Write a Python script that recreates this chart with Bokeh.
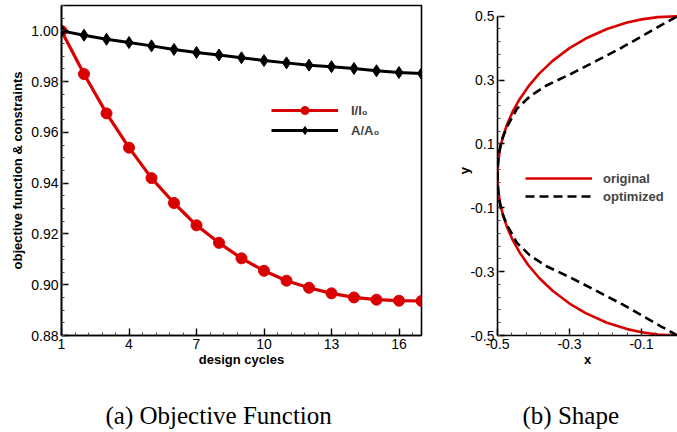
from bokeh.plotting import figure
from bokeh.layouts import row, column
from bokeh.models import (FixedTicker, NumeralTickFormatter, Legend, LegendItem,
                          Label, Range1d)
from bokeh.embed import file_html
from bokeh.resources import INLINE

# ---- data: optimisation history ----
cycles = list(range(1, 18))
obj_ratio = [1.000, 0.983, 0.9675, 0.954, 0.942, 0.9322, 0.9234, 0.9165, 0.9104,
             0.9055, 0.9016, 0.8988, 0.8966, 0.8950, 0.8941, 0.8937, 0.8936]
area_ratio = [1.000, 0.9983, 0.9967, 0.9954, 0.9941, 0.9927, 0.9915, 0.9905, 0.9894,
              0.9883, 0.9874, 0.9865, 0.9859, 0.9852, 0.9843, 0.9836, 0.9832]

# ---- data: nose shapes ----
orig_y = [-0.5, -0.497, -0.49, -0.48, -0.46, -0.43, -0.4, -0.36, -0.32, -0.28, -0.24,
          -0.2, -0.16, -0.13, -0.1, -0.08, -0.05, -0.02, 0.0, 0.02, 0.05, 0.08, 0.1,
          0.13, 0.16, 0.2, 0.24, 0.28, 0.32, 0.36, 0.4, 0.43, 0.46, 0.48, 0.49, 0.497, 0.5]
orig_x = [0.0, -0.0547, -0.0995, -0.14, -0.196, -0.2551, -0.3, -0.347, -0.3842, -0.4142,
          -0.4386, -0.4583, -0.4737, -0.4828, -0.4899, -0.4936, -0.4975, -0.4996, -0.5,
          -0.4996, -0.4975, -0.4936, -0.4899, -0.4828, -0.4737, -0.4583, -0.4386, -0.4142,
          -0.3842, -0.347, -0.3, -0.2551, -0.196, -0.14, -0.0995, -0.0547, 0.0]

opt_x = [0.0, -0.045, -0.09, -0.154, -0.227, -0.3, -0.364, -0.41, -0.446, -0.473, -0.489,
         -0.496, -0.499, -0.5, -0.499, -0.496, -0.489, -0.473, -0.446, -0.41, -0.364,
         -0.3, -0.227, -0.154, -0.09, -0.045, 0.0]
opt_y = [-0.5, -0.472, -0.443, -0.402, -0.359, -0.317, -0.283, -0.249, -0.21, -0.155,
         -0.11, -0.07, -0.035, 0.0, 0.035, 0.07, 0.11, 0.155, 0.21, 0.249, 0.283,
         0.317, 0.359, 0.402, 0.443, 0.472, 0.5]

captions = ["(a) Objective Function", "(b) Shape"]

RED = "#d90000"
SANS = "Liberation Sans"
SERIF = "Liberation Serif"


def style_axes(p):
    for ax in (p.xaxis[0], p.yaxis[0]):
        ax.axis_line_width = 1.6
        ax.axis_line_color = "black"
        ax.major_tick_in = 7
        ax.major_tick_out = 0
        ax.minor_tick_in = 3
        ax.minor_tick_out = 0
        ax.major_tick_line_width = 1.4
        ax.minor_tick_line_width = 1
        ax.major_tick_line_color = "black"
        ax.minor_tick_line_color = "#444444"
        ax.major_label_text_font = SANS
        ax.major_label_text_font_size = "14px"
        ax.major_label_text_color = "black"
        ax.major_label_standoff = 3
        ax.axis_label_text_font = SANS
        ax.axis_label_text_font_style = "bold"
        ax.axis_label_text_font_size = "13px"
        ax.axis_label_text_color = "black"
    p.xgrid.visible = False
    p.ygrid.visible = False


# ---- (a) objective function history ----
p1 = figure(width=440, height=400, x_range=Range1d(1, 17), y_range=Range1d(0.88, 1.01),
            output_backend="svg", toolbar_location=None,
            min_border_left=61, min_border_right=19, min_border_top=5, min_border_bottom=65)
p1.outline_line_color = "black"
p1.outline_line_width = 1.6
style_axes(p1)
p1.xaxis.ticker = FixedTicker(ticks=[1, 4, 7, 10, 13, 16],
                              minor_ticks=[round(1 + 0.6 * i, 2) for i in range(27) if i % 5])
p1.yaxis.ticker = FixedTicker(ticks=[0.88, 0.90, 0.92, 0.94, 0.96, 0.98, 1.00],
                              minor_ticks=[round(0.88 + 0.005 * i, 3) for i in range(27)])
p1.yaxis.formatter = NumeralTickFormatter(format="0.00")
p1.xaxis.axis_label = "design cycles"
p1.yaxis.axis_label = "objective function & constraints"
p1.xaxis.axis_label_standoff = 0
p1.yaxis.axis_label_standoff = 3

l_obj = p1.line(cycles, obj_ratio, line_color=RED, line_width=3.2)
m_obj = p1.scatter(cycles, obj_ratio, marker="circle", size=11, fill_color=RED, line_color=RED)
l_area = p1.line(cycles, area_ratio, line_color="black", line_width=3)
m_area = p1.scatter(cycles, area_ratio, marker="diamond", size=12, fill_color="black",
                    line_color="black")

leg1 = Legend(items=[LegendItem(label="I/I\u2080", renderers=[l_obj, m_obj]),
                     LegendItem(label="A/A\u2080", renderers=[l_area, m_area])],
              location=(210, 195), glyph_width=67, glyph_height=20, label_height=20,
              label_standoff=13, padding=0, spacing=0, margin=0,
              border_line_alpha=0, background_fill_alpha=0,
              label_text_font=SANS, label_text_font_style="bold", label_text_font_size="13px")
p1.add_layout(leg1)

# ---- (b) shape ----
p2 = figure(width=237, height=400, x_range=Range1d(-0.5, 0.0), y_range=Range1d(-0.5, 0.5335),
            output_backend="svg", toolbar_location=None,
            min_border_left=57, min_border_right=0, min_border_top=5, min_border_bottom=65)
p2.outline_line_color = None
style_axes(p2)
p2.xaxis.ticker = FixedTicker(ticks=[-0.5, -0.3, -0.1],
                              minor_ticks=[round(-0.5 + 0.04 * i, 2) for i in range(13)])
p2.yaxis.ticker = FixedTicker(ticks=[-0.5, -0.3, -0.1, 0.1, 0.3, 0.5],
                              minor_ticks=[round(-0.5 + 0.04 * i, 2) for i in range(26)])
p2.yaxis.bounds = (-0.5, 0.5)
p2.xaxis.formatter = NumeralTickFormatter(format="0.0")
p2.yaxis.formatter = NumeralTickFormatter(format="0.0")
p2.xaxis.axis_label = "x"
p2.yaxis.axis_label = "y"
p2.xaxis.axis_label_standoff = 0
p2.yaxis.axis_label_standoff = -5

r_orig = p2.line(orig_x, orig_y, line_color=RED, line_width=2.6)
r_opt = p2.line(opt_x, opt_y, line_color="black", line_width=2.6, line_dash="9 5")

leg2 = Legend(items=[LegendItem(label="original", renderers=[r_orig]),
                     LegendItem(label="optimized", renderers=[r_opt])],
              location=(28, 130), glyph_width=67, glyph_height=18, label_height=18,
              label_standoff=11, padding=0, spacing=0, margin=0,
              border_line_alpha=0, background_fill_alpha=0,
              label_text_font=SANS, label_text_font_style="bold", label_text_font_size="13px")
p2.add_layout(leg2)

# ---- caption strip under both panels (pixel-scaled ranges) ----
cap = figure(width=677, height=32, x_range=Range1d(0, 677), y_range=Range1d(0, 32),
             output_backend="svg", toolbar_location=None,
             min_border_left=0, min_border_right=0, min_border_top=0, min_border_bottom=0)
cap.axis.visible = False
cap.xgrid.visible = False
cap.ygrid.visible = False
cap.outline_line_color = None
for text, x in zip(captions, [105, 522]):
    cap.add_layout(Label(x=x, y=17, text=text, text_font=SERIF, text_font_size="25px",
                         text_color="black", text_baseline="middle", text_align="left"))

layout = column(row(p1, p2), cap)
open("out.html", "w").write(file_html(layout, INLINE))
